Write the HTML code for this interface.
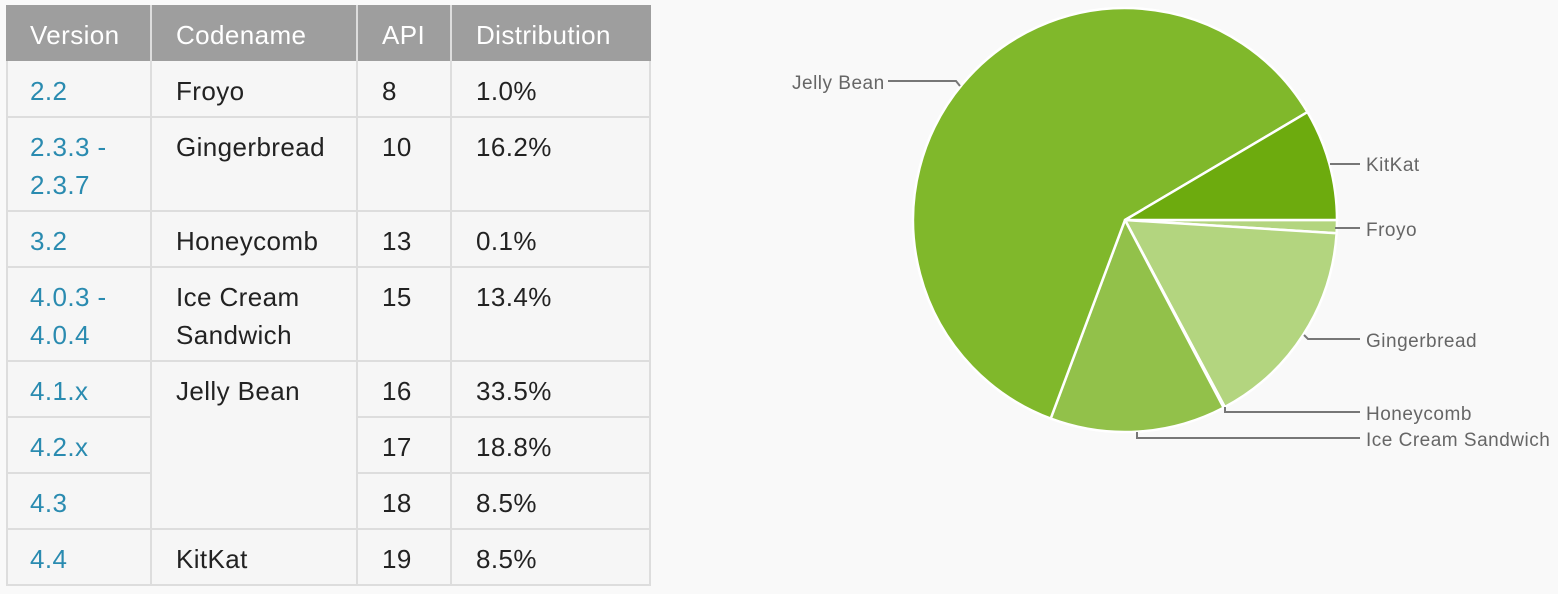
<!DOCTYPE html>
<html><head><meta charset="utf-8"><style>
body{margin:0;width:1558px;height:594px;background:#f9f9f9;overflow:hidden;font-family:"Liberation Sans",sans-serif;position:relative}
.t{position:absolute;font-size:26px;line-height:38px;color:#222;white-space:nowrap;letter-spacing:0.4px}
.h{color:#fff}
.l{color:#2a8bb0}
.hl{position:absolute;background:#ddd;height:2px;left:6px;width:645px}
.vl{position:absolute;background:#ddd;width:2px}
</style></head><body>
<div style="position:absolute;left:6px;top:5px;width:645px;height:581px;background:#f6f6f6;border:2px solid #ddd;box-sizing:border-box"></div>
<div style="position:absolute;left:6px;top:5px;width:645px;height:56px;background:#9e9e9e"></div>
<div class="vl" style="left:150px;top:5px;height:581px"></div>
<div class="vl" style="left:356px;top:5px;height:581px"></div>
<div class="vl" style="left:450px;top:5px;height:581px"></div>
<div class="hl" style="top:116px"></div>
<div class="hl" style="top:210px"></div>
<div class="hl" style="top:266px"></div>
<div class="hl" style="top:360px"></div>
<div class="hl" style="top:416px;left:6px;width:145px"></div>
<div class="hl" style="top:416px;left:357px;width:294px"></div>
<div class="hl" style="top:472px;left:6px;width:145px"></div>
<div class="hl" style="top:472px;left:357px;width:294px"></div>
<div class="hl" style="top:528px"></div>
<div class="t h" style="left:30px;top:16px">Version</div>
<div class="t h" style="left:176px;top:16px">Codename</div>
<div class="t h" style="left:382px;top:16px">API</div>
<div class="t h" style="left:476px;top:16px">Distribution</div>

<div class="t l" style="left:30px;top:72px">2.2</div><div class="t" style="left:176px;top:72px">Froyo</div><div class="t" style="left:382px;top:72px">8</div><div class="t" style="left:476px;top:72px">1.0%</div>
<div class="t l" style="left:30px;top:128px">2.3.3 -<br>2.3.7</div><div class="t" style="left:176px;top:128px">Gingerbread</div><div class="t" style="left:382px;top:128px">10</div><div class="t" style="left:476px;top:128px">16.2%</div>
<div class="t l" style="left:30px;top:222px">3.2</div><div class="t" style="left:176px;top:222px">Honeycomb</div><div class="t" style="left:382px;top:222px">13</div><div class="t" style="left:476px;top:222px">0.1%</div>
<div class="t l" style="left:30px;top:278px">4.0.3 -<br>4.0.4</div><div class="t" style="left:176px;top:278px">Ice Cream<br>Sandwich</div><div class="t" style="left:382px;top:278px">15</div><div class="t" style="left:476px;top:278px">13.4%</div>
<div class="t l" style="left:30px;top:372px">4.1.x</div><div class="t" style="left:176px;top:372px">Jelly Bean</div><div class="t" style="left:382px;top:372px">16</div><div class="t" style="left:476px;top:372px">33.5%</div>
<div class="t l" style="left:30px;top:428px">4.2.x</div><div class="t" style="left:382px;top:428px">17</div><div class="t" style="left:476px;top:428px">18.8%</div>
<div class="t l" style="left:30px;top:484px">4.3</div><div class="t" style="left:382px;top:484px">18</div><div class="t" style="left:476px;top:484px">8.5%</div>
<div class="t l" style="left:30px;top:540px">4.4</div><div class="t" style="left:176px;top:540px">KitKat</div><div class="t" style="left:382px;top:540px">19</div><div class="t" style="left:476px;top:540px">8.5%</div>

<svg style="position:absolute;left:0;top:0" width="1558" height="594">
<g stroke="#fff" stroke-width="2.5" stroke-linejoin="round">
<path d="M1125 220 L1337 220 A212 212 0 0 1 1336.6 233.3 Z" fill="#b3d57f"/>
<path d="M1125 220 L1336.6 233.3 A212 212 0 0 1 1224.8 407 Z" fill="#b3d57f"/>
<path d="M1125 220 L1224.8 407 A212 212 0 0 1 1223.6 407.7 Z" fill="#b3d57f"/>
<path d="M1125 220 L1223.6 407.7 A212 212 0 0 1 1050.7 418.6 Z" fill="#92c14a"/>
<path d="M1125 220 L1050.7 418.6 A212 212 0 1 1 1307.5 112.1 Z" fill="#80b82b"/>
<path d="M1125 220 L1307.5 112.1 A212 212 0 0 1 1337 220 Z" fill="#6dab0e"/>
</g>
<g stroke="#777" stroke-width="2" fill="none">
<path d="M888 81 L956 81 L960 86"/>
<path d="M1330 164 L1360 164"/>
<path d="M1335 228 L1360 228"/>
<path d="M1304 335 L1308 339 L1360 339"/>
<path d="M1225 407 L1225 412 L1360 412"/>
<path d="M1137 432 L1137 438 L1360 438"/>
</g>
<g font-family="Liberation Sans, sans-serif" font-size="19" fill="#666" letter-spacing="0.5">
<text x="792" y="89">Jelly Bean</text>
<text x="1366" y="171">KitKat</text>
<text x="1366" y="236">Froyo</text>
<text x="1366" y="347">Gingerbread</text>
<text x="1366" y="420">Honeycomb</text>
<text x="1366" y="446">Ice Cream Sandwich</text>
</g>
</svg>
</body></html>
